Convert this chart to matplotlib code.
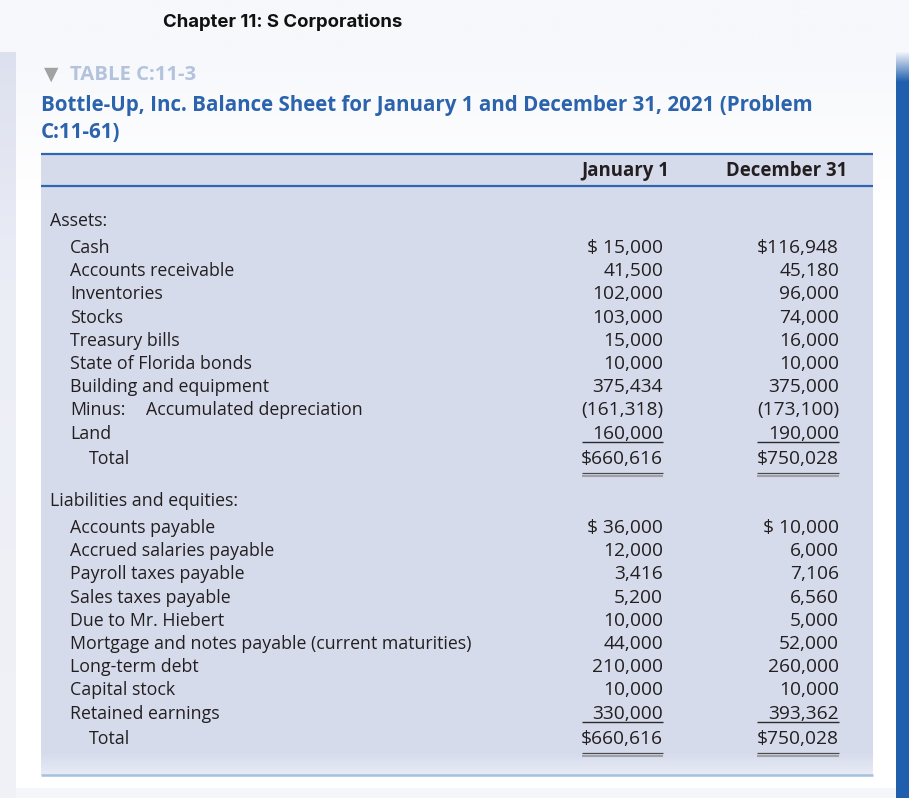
import matplotlib
matplotlib.use("Agg")
import matplotlib.pyplot as plt
import numpy as np

# ---------------- data ----------------
chapter_title = "Chapter 11: S Corporations"
table_tag = "TABLE C:11-3"
title_lines = ["Bottle-Up, Inc. Balance Sheet for January 1 and December 31, 2021 (Problem",
               "C:11-61)"]
col_headers = ["January 1", "December 31"]

asset_heading = "Assets:"
asset_labels = ["Cash", "Accounts receivable", "Inventories", "Stocks", "Treasury bills",
                "State of Florida bonds", "Building and equipment",
                "Minus:\tAccumulated depreciation", "Land"]
asset_jan = [15000, 41500, 102000, 103000, 15000, 10000, 375434, -161318, 160000]
asset_dec = [116948, 45180, 96000, 74000, 16000, 10000, 375000, -173100, 190000]
asset_total = [660616, 750028]

liab_heading = "Liabilities and equities:"
liab_labels = ["Accounts payable", "Accrued salaries payable", "Payroll taxes payable",
               "Sales taxes payable", "Due to Mr. Hiebert",
               "Mortgage and notes payable (current maturities)", "Long-term debt",
               "Capital stock", "Retained earnings"]
liab_jan = [36000, 12000, 3416, 5200, 10000, 44000, 210000, 10000, 330000]
liab_dec = [10000, 6000, 7106, 6560, 5000, 52000, 260000, 10000, 393362]
liab_total = [660616, 750028]
total_label = "Total"

# ---------------- style ----------------
W, H = 909, 798
BODY = ["Open Sans", "DejaVu Sans"]
BLUE = "#2b63ad"
TXT = "#231f20"
TABLE_BG = "#d6dbec"

fig = plt.figure(figsize=(W / 100, H / 100), dpi=100)
ax = fig.add_axes([0, 0, 1, 1])
ax.set_xlim(0, W)
ax.set_ylim(H, 0)
ax.axis("off")
fig.patch.set_facecolor("#f7f8fc")


def vgrad(x0, x1, y0, y1, c_top, c_bot, z=0):
    t = np.linspace(0, 1, 256)[:, None]
    a = np.array(matplotlib.colors.to_rgb(c_top))
    b = np.array(matplotlib.colors.to_rgb(c_bot))
    img = (a[None, None, :] * (1 - t[:, :, None]) + b[None, None, :] * t[:, :, None])
    img = np.repeat(img, 2, axis=1)
    ax.imshow(img, extent=(x0, x1, y1, y0), aspect="auto", zorder=z, interpolation="bilinear")


# page background / panel
vgrad(0, W, 0, 52, "#f7f8fc", "#f7f8fc", z=0)
vgrad(0, 16, 52, 300, "#dde1ef", "#eceef6", z=0)
vgrad(0, 16, 300, H, "#eceef6", "#f1f2f7", z=0)
vgrad(16, 896, 52, 200, "#f7f8fc", "#ffffff", z=0)
ax.add_patch(plt.Rectangle((16, 200), 880, 588, color="#ffffff", zorder=0.5, lw=0))
ax.add_patch(plt.Rectangle((16, 788), 880, 10, color="#f5f6fa", zorder=0.6, lw=0))
# right blue bar
vgrad(896, W, 52, 82, "#f2f5fb", "#1f5fae", z=1)
ax.add_patch(plt.Rectangle((896, 82), W - 896, H - 82, color="#1f5fae", zorder=1, lw=0))

# chapter header
ax.text(163, 27, chapter_title, fontsize=13.4, fontweight="bold",
        family=["Inter", "DejaVu Sans"], color="#111111", va="baseline", ha="left")

# table tag
ax.text(44, 80, "\u25BC", fontsize=13.5, family=["DejaVu Sans"], color="#a2a2a2",
        va="baseline", ha="left")
ax.text(70, 80, table_tag, fontsize=14.6, fontweight="bold", family=BODY,
        color="#b3c3dd", va="baseline", ha="left")

# title
for i, line in enumerate(title_lines):
    ax.text(41, 111 + i * 27, line, fontsize=14.78, fontweight="bold", family=BODY,
            color=BLUE, va="baseline", ha="left")

# table background
TX0, TX1 = 41, 873
TY0, TY1 = 153, 775
ax.add_patch(plt.Rectangle((TX0, TY0), TX1 - TX0, 600, color=TABLE_BG, zorder=1, lw=0))
vgrad(TX0, TX1, TY0 + 600, TY1, TABLE_BG, "#e8ecf6", z=1)
ax.plot([TX0, TX1], [TY0 + 1, TY0 + 1], color="#2f66b3", lw=1.6, zorder=3,
        solid_capstyle="butt")
ax.plot([TX0, TX1], [186, 186], color="#2f66b3", lw=1.6, zorder=3, solid_capstyle="butt")
ax.plot([TX0, TX1], [TY1, TY1], color="#a7bfe0", lw=1.8, zorder=3, solid_capstyle="butt")

# column headers
col_right = [663, 839]
col_left = [582, 757]
head_x = [625.5, 787]
for hx, h in zip(head_x, col_headers):
    ax.text(hx, 176, h, fontsize=13.4, fontweight="bold", family=BODY, color=TXT,
            va="baseline", ha="center")


def fmt(v, dollar=False):
    s = f"{abs(v):,}"
    if v < 0:
        s = "(" + s + ")"
    if dollar:
        s = "$" + (" " if abs(v) < 100000 else "") + s
    return s


FS = 12.8
FSN = 13.75
DY = 23.2


def draw_section(y_head, heading, labels, jan, dec, totals):
    ax.text(50, y_head, heading, fontsize=FS, family=BODY, color=TXT, va="baseline", zorder=4)
    y = y_head + 27
    for i, lab in enumerate(labels):
        yy = y + i * DY
        if "\t" in lab:
            a, b = lab.split("\t")
            ax.text(70, yy, a, fontsize=FS, family=BODY, color=TXT, va="baseline", zorder=4)
            ax.text(146, yy, b, fontsize=FS, family=BODY, color=TXT, va="baseline", zorder=4)
        else:
            ax.text(70, yy, lab, fontsize=FS, family=BODY, color=TXT, va="baseline", zorder=4)
        for c, vals in enumerate([jan, dec]):
            ax.text(col_right[c], yy, fmt(vals[i], dollar=(i == 0)), fontsize=FSN,
                    family=BODY, color=TXT, va="baseline", ha="right", zorder=4)
    y_last = y + (len(labels) - 1) * DY
    y_tot = y_last + 25.5
    ax.text(89, y_tot, total_label, fontsize=FS, family=BODY, color=TXT, va="baseline", zorder=4)
    for c in range(2):
        ax.text(col_right[c], y_tot, fmt(totals[c], dollar=True), fontsize=FSN,
                family=BODY, color=TXT, va="baseline", ha="right", zorder=4)
        ax.plot([col_left[c], col_right[c]], [y_last + 3.5, y_last + 3.5], color="#2a2a2a",
                lw=1.0, zorder=4, solid_capstyle="butt")
        ax.plot([col_left[c], col_right[c]], [y_tot + 9.3, y_tot + 9.3], color="#4a4a4a",
                lw=0.9, zorder=4, solid_capstyle="butt")
        ax.plot([col_left[c], col_right[c]], [y_tot + 12.3, y_tot + 12.3], color="#a0a0a6",
                lw=1.5, zorder=4, solid_capstyle="butt")


draw_section(226, asset_heading, asset_labels, asset_jan, asset_dec, asset_total)
draw_section(506, liab_heading, liab_labels, liab_jan, liab_dec, liab_total)

fig.savefig("out.png", dpi=100, facecolor=fig.get_facecolor())
